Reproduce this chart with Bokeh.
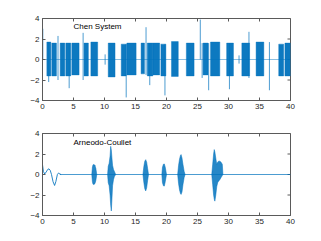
import math
from bokeh.plotting import figure
from bokeh.models import Range1d, FixedTicker
from bokeh.layouts import column
from bokeh.embed import file_html
from bokeh.resources import INLINE
from bokeh.core.properties import value

# ---------------- data ----------------
x_ticks = [0, 5, 10, 15, 20, 25, 30, 35, 40]
y_ticks = [-4, -2, 0, 2, 4]
x_lim = [0, 40]
y_lim = [-4, 4]

# Chen System: bursts of dense oscillation (start, end, upper, lower)
chen_start = [0.7, 1.5, 2.85, 3.76, 4.73, 6.7, 7.8, 10.6, 12.7, 13.6, 15.9, 16.9, 17.8,
              19.1, 20.8, 23.2, 25.9, 27.1, 29.7, 32.15, 34.45, 38.1, 39.1]
chen_end = [1.35, 2.25, 3.6, 4.56, 5.9, 7.4, 8.9, 11.7, 13.5, 15.1, 16.45, 17.8, 18.9,
            19.9, 21.9, 24.45, 26.7, 28.6, 30.8, 33.4, 35.7, 38.9, 40.0]
chen_top = [1.7, 1.6, 1.6, 1.6, 1.6, 1.6, 1.7, 1.6, 1.5, 1.6, 1.6, 1.6, 1.6,
            1.5, 1.75, 1.6, 1.6, 1.7, 1.6, 1.6, 1.7, 1.5, 1.6]
chen_bottom = [-1.6, -1.6, -1.6, -1.6, -1.5, -1.6, -1.6, -1.7, -1.6, -1.5, -1.4, -1.6, -1.5,
               -1.6, -1.65, -1.6, -1.5, -1.6, -1.6, -1.6, -1.6, -1.6, -1.6]
# isolated excursions (x, high, low)
chen_spike_x = [0.05, 1.0, 2.5, 4.3, 6.55, 10.1, 13.5, 16.7, 17.3, 19.75, 25.45, 25.75, 26.8,
                30.15, 31.7, 33.3, 36.6]
chen_spike_hi = [3.0, 1.7, 2.3, 1.6, 2.6, 0.5, 1.5, 3.15, 1.6, 1.5, 3.9, 1.6, 1.6,
                 1.6, 0.4, 2.7, 1.7]
chen_spike_lo = [0.0, -2.2, -2.0, -2.8, -2.0, -0.5, -3.7, -1.5, -2.5, -3.5, 0.0, -1.8, -3.0,
                 -2.9, -0.4, -1.8, -3.0]
chen_flat_x = [0, 40]
chen_flat_y = [0, 0]

# Arneodo-Coullet: initial transient and flat baseline
ac_init_x = [0.0, 0.15, 0.35, 0.6, 0.85, 1.05, 1.25, 1.45, 1.7, 1.95, 2.15, 2.4, 2.6, 2.8, 3.0]
ac_init_y = [0.95, 0.3, 0.05, 0.25, 0.5, 0.55, 0.4, 0.0, -0.7, -1.07, -0.7, 0.0, 0.15, 0.05, 0.0]
ac_flat_x = [2.8, 40]
ac_flat_y = [0, 0]

# Arneodo-Coullet bursts: envelope points (x, upper, lower)
ac_b1_x = [7.95, 8.05, 8.15, 8.3, 8.45, 8.6, 8.75]
ac_b1_hi = [0, 0.7, 0.95, 0.97, 0.9, 0.6, 0]
ac_b1_lo = [0, -0.7, -0.95, -0.97, -0.9, -0.6, 0]
ac_b2_x = [10.5, 10.6, 10.75, 10.9, 11.0, 11.1, 11.2, 11.3, 11.45, 11.6, 11.8]
ac_b2_hi = [0, 0.8, 1.1, 1.8, 2.75, 2.4, 1.6, 0.9, 0.5, 0.3, 0]
ac_b2_lo = [0, -0.8, -1.1, -2.0, -3.0, -3.56, -2.4, -1.1, -0.5, -0.2, 0]
ac_b3_x = [16.2, 16.35, 16.5, 16.65, 16.8, 16.95, 17.1]
ac_b3_hi = [0, 0.8, 1.3, 1.45, 1.2, 0.6, 0]
ac_b3_lo = [0, -0.8, -1.4, -1.6, -1.3, -0.6, 0]
ac_b4_x = [19.25, 19.35, 19.5, 19.65, 19.8, 20.0]
ac_b4_hi = [0, 0.7, 1.0, 1.03, 0.7, 0]
ac_b4_lo = [0, -0.8, -1.1, -1.13, -0.7, 0]
ac_b5_x = [21.8, 21.95, 22.1, 22.25, 22.35, 22.5, 22.65, 22.85, 23.0]
ac_b5_hi = [0, 0.9, 1.5, 1.85, 1.94, 1.6, 1.0, 0.3, 0]
ac_b5_lo = [0, -0.9, -1.5, -1.85, -1.94, -1.7, -1.0, -0.3, 0]
ac_b6_x = [27.3, 27.45, 27.6, 27.7, 27.8, 27.95, 28.1, 28.25, 28.4, 28.6, 28.8, 29.0, 29.1]
ac_b6_hi = [0, 1.0, 2.0, 2.43, 2.2, 1.6, 1.0, 1.2, 1.3, 1.3, 1.2, 1.0, 0]
ac_b6_lo = [0, -1.0, -2.0, -2.4, -2.6, -2.0, -1.2, -0.8, -0.65, -0.5, -0.3, -0.1, 0]

titles = ["Chen System", "Arneodo-Coullet"]
title_x = [5, 5]
title_y = [3.2, 3.1]

BLUE = "#0072BD"
AX = "#5a5a5a"
TXT = "#262626"
FONT = "Liberation Sans"


def make_fig(height, top, bottom):
    p = figure(width=310, height=height, output_backend="svg", toolbar_location=None,
               x_range=Range1d(*x_lim), y_range=Range1d(*y_lim),
               min_border_left=42, min_border_right=20,
               min_border_top=top, min_border_bottom=bottom)
    p.xgrid.visible = False
    p.ygrid.visible = False
    p.outline_line_color = AX
    p.outline_line_width = 1
    p.background_fill_color = "white"
    p.border_fill_color = "white"
    for ax, tk in ((p.xaxis[0], x_ticks), (p.yaxis[0], y_ticks)):
        ax.ticker = FixedTicker(ticks=tk)
        ax.axis_line_color = AX
        ax.major_tick_line_color = AX
        ax.major_tick_in = 3
        ax.major_tick_out = 0
        ax.minor_tick_line_color = None
        ax.major_label_standoff = 3
        ax.major_label_text_font = FONT
        ax.major_label_text_font_size = "8px"
        ax.major_label_text_color = TXT
    # mirrored inward ticks on the top and right edges (clipped to the frame)
    p.scatter(x=x_ticks, y=[y_lim[1]] * len(x_ticks), marker="dash", size=6,
              angle=math.pi / 2, line_color=AX, line_width=1)
    p.scatter(x=[x_lim[1]] * len(y_ticks), y=y_ticks, marker="dash", size=6,
              angle=0, line_color=AX, line_width=1)
    return p


p1 = make_fig(120, 18, 20)
p1.line(chen_flat_x, chen_flat_y, line_color=BLUE, line_width=1, line_alpha=0.45)
p1.segment(x0=chen_spike_x, y0=chen_spike_lo, x1=chen_spike_x, y1=chen_spike_hi,
           line_color=BLUE, line_width=1, line_alpha=0.7)
p1.quad(left=chen_start, right=chen_end, top=chen_top, bottom=chen_bottom,
        fill_color=BLUE, fill_alpha=0.95, line_color=BLUE, line_alpha=0.4, line_width=1)
p1.text(x=[title_x[0]], y=[title_y[0]], text=[titles[0]], text_font=value(FONT),
        text_font_size="8px", text_color="black", text_baseline="middle", text_align="left")

p2 = make_fig(116, 13, 21)
p2.line(ac_flat_x, ac_flat_y, line_color=BLUE, line_width=1, line_alpha=0.7)
p2.line(ac_init_x, ac_init_y, line_color=BLUE, line_width=1, line_alpha=0.85)
for bx, bh, bl in ((ac_b1_x, ac_b1_hi, ac_b1_lo), (ac_b2_x, ac_b2_hi, ac_b2_lo),
                   (ac_b3_x, ac_b3_hi, ac_b3_lo), (ac_b4_x, ac_b4_hi, ac_b4_lo),
                   (ac_b5_x, ac_b5_hi, ac_b5_lo), (ac_b6_x, ac_b6_hi, ac_b6_lo)):
    xs = list(bx) + list(bx)[::-1]
    ys = list(bh) + list(bl)[::-1]
    p2.patch(xs, ys, fill_color=BLUE, fill_alpha=0.85, line_color=BLUE, line_alpha=0.5,
             line_width=1)
p2.text(x=[title_x[1]], y=[title_y[1]], text=[titles[1]], text_font=value(FONT),
        text_font_size="8px", text_color="black", text_baseline="middle", text_align="left")

layout = column(p1, p2, spacing=0)
open("out.html", "w").write(file_html(layout, INLINE))
